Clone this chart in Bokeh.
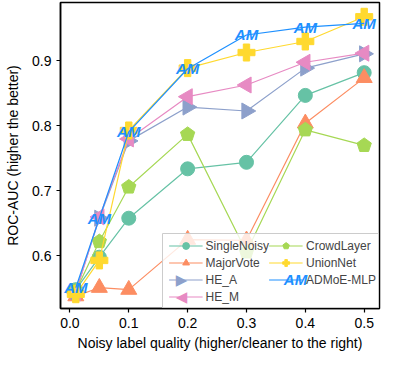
import math
from bokeh.plotting import figure
from bokeh.models import Range1d, FixedTicker, Legend, LegendItem, Label, BoxAnnotation, NumeralTickFormatter
from bokeh.core.properties import value
from bokeh.embed import file_html
from bokeh.resources import INLINE

quality = [0.01, 0.05, 0.1, 0.2, 0.3, 0.4, 0.5]
single_noisy = [0.548, 0.598, 0.658, 0.734, 0.744, 0.847, 0.882]
major_vote = [0.538, 0.551, 0.548, 0.625, 0.624, 0.804, 0.874]
he_a = [0.545, 0.658, 0.777, 0.829, 0.823, 0.889, 0.911]
he_m = [0.543, 0.660, 0.780, 0.845, 0.863, 0.898, 0.912]
crowd_layer = [0.546, 0.622, 0.706, 0.787, 0.606, 0.794, 0.770]
union_net = [0.541, 0.593, 0.793, 0.889, 0.913, 0.930, 0.968]
admoe_mlp = [0.551, 0.658, 0.791, 0.888, 0.940, 0.952, 0.958]

x_ticks = [0.0, 0.1, 0.2, 0.3, 0.4, 0.5]
y_ticks = [0.6, 0.7, 0.8, 0.9]

FONT = "Liberation Sans"

p = figure(width=382, height=356, output_backend="svg", toolbar_location=None,
           x_range=Range1d(-0.016, 0.526), y_range=Range1d(0.519, 0.99),
           min_border_left=60, min_border_right=3, min_border_top=2, min_border_bottom=48)
p.grid.visible = False
p.outline_line_color = "black"
p.outline_line_width = 1.5
p.background_fill_color = "white"
p.border_fill_color = "white"

for ax in (p.xaxis[0], p.yaxis[0]):
    ax.axis_line_color = "black"
    ax.axis_line_width = 1.5
    ax.major_tick_line_color = "black"
    ax.major_tick_line_width = 1.2
    ax.major_tick_out = 4
    ax.major_tick_in = 0
    ax.minor_tick_line_color = None
    ax.major_label_text_font = FONT
    ax.major_label_text_font_size = "14px"
    ax.major_label_text_color = "black"
    ax.axis_label_text_font = FONT
    ax.axis_label_text_font_size = "14px"
    ax.axis_label_text_font_style = "normal"
    ax.axis_label_text_color = "black"
    ax.formatter = NumeralTickFormatter(format="0.0")

p.xaxis.ticker = FixedTicker(ticks=x_ticks)
p.yaxis.ticker = FixedTicker(ticks=y_ticks)
p.xaxis.axis_label = "Noisy label quality (higher/cleaner to the right)"
p.yaxis.axis_label = "ROC-AUC (higher the better)"
p.xaxis.major_label_standoff = 5
p.xaxis.axis_label_standoff = 4
p.yaxis.major_label_standoff = 5
p.yaxis.axis_label_standoff = 8

LW = 1.2
items = []

c = "#66c2a5"
l1 = p.line(quality, single_noisy, line_color=c, line_width=LW)
m1 = p.scatter(quality, single_noisy, marker="circle", size=14, fill_color=c, line_color=c)
items.append(LegendItem(label="SingleNoisy", renderers=[l1, m1]))

c = "#fc8d62"
l2 = p.line(quality, major_vote, line_color=c, line_width=LW)
m2 = p.scatter(quality, major_vote, marker="triangle", size=16, fill_color=c, line_color=c)
items.append(LegendItem(label="MajorVote", renderers=[l2, m2]))

c_hea = "#8da0cb"
l3 = p.line(quality, he_a, line_color=c_hea, line_width=LW)
m3 = p.scatter(quality, he_a, marker="triangle", angle=-math.pi / 2, size=16, fill_color=c_hea, line_color=c_hea)
items.append(LegendItem(label="HE_A", renderers=[l3]))

c_hem = "#e78ac3"
l4 = p.line(quality, he_m, line_color=c_hem, line_width=LW)
m4 = p.scatter(quality, he_m, marker="triangle", angle=math.pi / 2, size=16, fill_color=c_hem, line_color=c_hem)
items.append(LegendItem(label="HE_M", renderers=[l4]))

c = "#a6d854"
l5 = p.line(quality, crowd_layer, line_color=c, line_width=LW)
m5 = p.ngon(quality, crowd_layer, radius=7.5, radius_units="screen", n=5, fill_color=c, line_color=c)
items.append(LegendItem(label="CrowdLayer", renderers=[l5, m5]))

c = "#ffd92f"
l6 = p.line(quality, union_net, line_color=c, line_width=LW)
m6 = p.scatter(quality, union_net, marker="plus", size=17, fill_color=c, line_color=c)
items.append(LegendItem(label="UnionNet", renderers=[l6, m6]))

c_am = "#1e90ff"
l7 = p.line(quality, admoe_mlp, line_color=c_am, line_width=LW)
m7 = p.text(quality, admoe_mlp, text=["AM"] * len(quality), text_color=c_am,
            text_font=value(FONT), text_font_style="bold italic", text_font_size="15px",
            text_align="center", text_baseline="middle")
items.append(LegendItem(label="ADMoE-MLP", renderers=[l7]))

# legend background box (drawn separately so that the extra legend markers sit on top of it)
p.add_layout(BoxAnnotation(left=102, right=318, bottom=1, top=75,
                           left_units="screen", right_units="screen",
                           bottom_units="screen", top_units="screen",
                           fill_color="white", fill_alpha=0.8,
                           line_color="#cccccc", line_width=1, line_alpha=1,
                           level="annotation", editable=False))

legend = Legend(items=items, location="bottom_right", ncols=2,
                label_text_font=FONT, label_text_font_size="12px",
                glyph_width=34, glyph_height=17, label_height=17, label_standoff=3,
                spacing=0, padding=3, margin=3,
                border_line_color=None, background_fill_alpha=0)
p.add_layout(legend, "center")

# legend markers that the legend itself cannot draw (text marker, sideways triangles)
def legend_mark(x, y, text, color, size, style="normal", font=FONT):
    p.add_layout(Label(x=x, y=y, x_units="screen", y_units="screen", text=text,
                       text_color=color, text_font=font, text_font_style=style,
                       text_font_size=size, text_align="center", text_baseline="middle",
                       level="overlay"))

legend_mark(121, 29, "\u25B6", c_hea, "15px", font="DejaVu Sans")
legend_mark(121, 12, "\u25C0", c_hem, "15px", font="DejaVu Sans")
legend_mark(235, 29, "AM", c_am, "15px", style="bold italic")

open("out.html", "w").write(file_html(p, INLINE))
